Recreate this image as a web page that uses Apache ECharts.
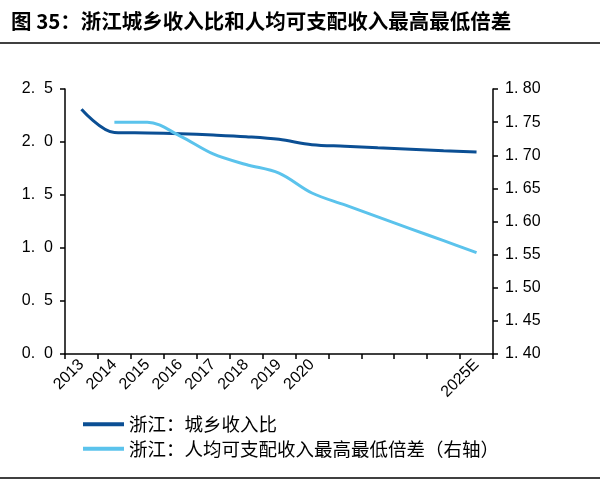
<!DOCTYPE html>
<html>
<head>
<meta charset="utf-8">
<script src="https://cdn.jsdelivr.net/npm/echarts@6/dist/echarts.min.js"></script>
<style>html,body{margin:0;padding:0;background:#fff}#c{width:600px;height:495px}</style>
</head>
<body>
<div id="c"></div>
<script>
const categories = ['2013','2014','2015','2016','2017','2018','2019','2020','2021','2022','2023','2024','2025E'];
const tickLabels = ['2013','2014','2015','2016','2017','2018','2019','2020','','','','','2025E'];
const urbanRuralRatio = [2.31, 2.09, 2.085, 2.078, 2.066, 2.05, 2.025, 1.975, 1.96, 1.945, 1.932, 1.918, 1.905];
const maxMinRatio = [null, 1.75, 1.75, 1.729, 1.702, 1.686, 1.673, 1.643, 1.625, 1.607, 1.589, 1.571, 1.553];
const seriesNames = ['浙江：城乡收入比', '浙江：人均可支配收入最高最低倍差（右轴）'];

const chart = echarts.init(document.getElementById('c'));
const axisFont = {color:'#000', fontSize:16, fontFamily:'Liberation Sans, Arial, sans-serif'};
chart.setOption({
  animation:false,
  title:{text:'图 35：浙江城乡收入比和人均可支配收入最高最低倍差', left:6, top:6,
    textStyle:{fontSize:20.5, fontWeight:'bold', color:'#000', fontFamily:'Noto Sans CJK SC'}},
  graphic:[
    {type:'line', shape:{x1:0,y1:43,x2:600,y2:43}, style:{stroke:'#000', lineWidth:1.5}},
    {type:'line', shape:{x1:0,y1:478,x2:600,y2:478}, style:{stroke:'#000', lineWidth:1.5}}
  ],
  grid:{left:65, right:107, top:89, bottom:141},
  legend:{orient:'vertical', left:78, top:410, itemWidth:41, itemHeight:4, itemGap:6, icon:'rect',
    textStyle:{fontSize:18.5, color:'#000', fontFamily:'Noto Sans CJK SC'}},
  xAxis:{type:'category', data:categories, boundaryGap:true,
    axisLine:{lineStyle:{color:'#000', width:1.5}},
    axisTick:{show:true, inside:false, length:5, lineStyle:{color:'#000', width:1.5}},
    axisLabel:{rotate:45, interval:0, margin:8, color:'#000', fontSize:16, fontFamily:'Liberation Sans, Arial, sans-serif',
      formatter:(v, i)=>tickLabels[i]},
    splitLine:{show:false}},
  yAxis:[
    {type:'value', min:0, max:2.5, interval:0.5, position:'left',
      axisLine:{show:true, lineStyle:{color:'#000', width:1.5}},
      axisTick:{show:true, length:5, lineStyle:{color:'#000', width:1.5}},
      axisLabel:{...axisFont, margin:12, formatter:v=>v.toFixed(1).replace('.', '.  ')},
      splitLine:{show:false}},
    {type:'value', min:1.4, max:1.8, interval:0.05, position:'right',
      axisLine:{show:true, lineStyle:{color:'#000', width:1.5}},
      axisTick:{show:true, length:5, lineStyle:{color:'#000', width:1.5}},
      axisLabel:{...axisFont, margin:12, formatter:v=>v.toFixed(2).replace('.', '. ')},
      splitLine:{show:false}}
  ],
  series:[
    {name:seriesNames[0], type:'line', yAxisIndex:0, data:urbanRuralRatio, smooth:0.35, symbol:'none',
      lineStyle:{color:'#0B4F94', width:3}, itemStyle:{color:'#0B4F94'}},
    {name:seriesNames[1], type:'line', yAxisIndex:1, data:maxMinRatio, smooth:0.35, symbol:'none',
      lineStyle:{color:'#5BC3EC', width:3}, itemStyle:{color:'#5BC3EC'}}
  ]
});
</script>
</body>
</html>
